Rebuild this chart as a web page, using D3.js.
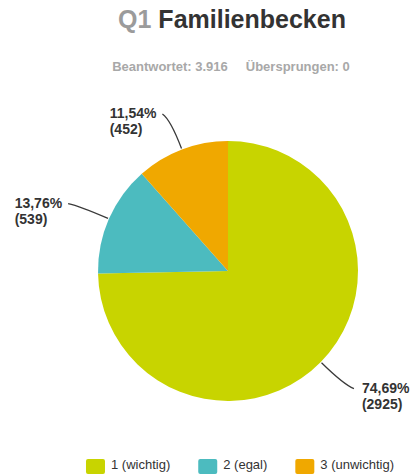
<!DOCTYPE html>
<html lang="de">
<head>
  <meta charset="UTF-8">
  <title>Q1 Familienbecken</title>
  <script src="https://d3js.org/d3.v7.min.js"></script>
  <style>
    body {
      background: #fff;
      margin: 0;
    }
    svg text {
      font-family: 'Liberation Sans', Arial, Helvetica, sans-serif;
    }
    .title {
      font-size: 25px;
      font-weight: bold;
    }
    .sub {
      font-size: 13px;
      font-weight: bold;
      fill: #a8a8a8;
    }
    .lbl {
      font-size: 14px;
      font-weight: bold;
      fill: #333;
    }
    .leg {
      font-size: 13px;
      fill: #333;
    }
  </style>
</head>
<body>
  <script>
    var categories = ["1 (wichtig)", "2 (egal)", "3 (unwichtig)"];
    var counts = [2925, 539, 452];
    var percents = [74.69, 13.76, 11.54];
    var colors = ["#c8d400", "#4cbbbf", "#f0a800"];

    var answered = "3.916", skipped = "0";

    var width = 415, height = 474;
    var cx = 228, cy = 271, radius = 130;

    var svg = d3.select("body").append("svg")
      .attr("width", width)
      .attr("height", height);

    // title
    var title = svg.append("text")
      .attr("class", "title")
      .attr("x", 232)
      .attr("y", 28)
      .attr("text-anchor", "middle");
    title.append("tspan").attr("fill", "#9b9b9b").text("Q1 ");
    title.append("tspan").attr("fill", "#333").text("Familienbecken");

    var sub = svg.append("text")
      .attr("class", "sub")
      .attr("x", 231)
      .attr("y", 71)
      .attr("text-anchor", "middle");
    sub.append("tspan").text("Beantwortet: " + answered);
    sub.append("tspan").attr("dx", 18).text("Übersprungen: " + skipped);

    var data = categories.map(function(c, i) {
      return { label: c, value: counts[i], pct: percents[i], color: colors[i] };
    });

    var pie = d3.pie()
      .sort(null)
      .value(function(d) { return d.value; });

    var arc = d3.arc()
      .innerRadius(0)
      .outerRadius(radius);

    var g = svg.append("g")
      .attr("transform", "translate(" + cx + "," + cy + ")");

    var arcs = pie(data);

    g.selectAll("path.slice")
      .data(arcs)
      .enter()
      .append("path")
      .attr("class", "slice")
      .attr("d", arc)
      .attr("fill", function(d) { return d.data.color; });

    function polar(r, a) {
      return [r * Math.sin(a), -r * Math.cos(a)];
    }

    var fmt = function(v) { return d3.format(".2f")(v).replace(".", ",") + "%"; };

    arcs.forEach(function(d) {
      var mid = (d.startAngle + d.endAngle) / 2;
      var left = Math.sin(mid) < 0;
      var p0 = polar(radius + 1, mid);
      var p1 = polar(162, mid);
      var p2 = polar(168, mid);
      var end = [p2[0] + (left ? -6 : 6), p2[1]];

      g.append("path")
        .attr("d", "M" + p0 + "Q" + p1 + " " + end)
        .attr("fill", "none")
        .attr("stroke", "#3a3a3a")
        .attr("stroke-width", 1.3);

      var t = g.append("text").attr("class", "lbl");
      var l1 = t.append("tspan").attr("y", end[1] + 4).text(fmt(d.data.pct));
      var l2 = t.append("tspan").attr("y", end[1] + 20).text("(" + d.data.value + ")");
      var w = l1.node().getComputedTextLength();
      var x = left ? end[0] - 6 - w : end[0] + 8;
      l1.attr("x", x);
      l2.attr("x", x);
    });

    // legend
    var legend = svg.append("g");
    var lx = 0;
    data.forEach(function(d) {
      var item = legend.append("g").attr("transform", "translate(" + lx + ",0)");
      item.append("rect")
        .attr("width", 19)
        .attr("height", 15)
        .attr("rx", 2)
        .attr("fill", d.color);
      var txt = item.append("text")
        .attr("class", "leg")
        .attr("x", 25)
        .attr("y", 10)
        .text(d.label);
      lx += 25 + txt.node().getComputedTextLength() + 28;
    });
    var totalW = lx - 28;
    legend.attr("transform", "translate(" + (240 - totalW / 2) + ",459)");
  </script>
</body>
</html>
